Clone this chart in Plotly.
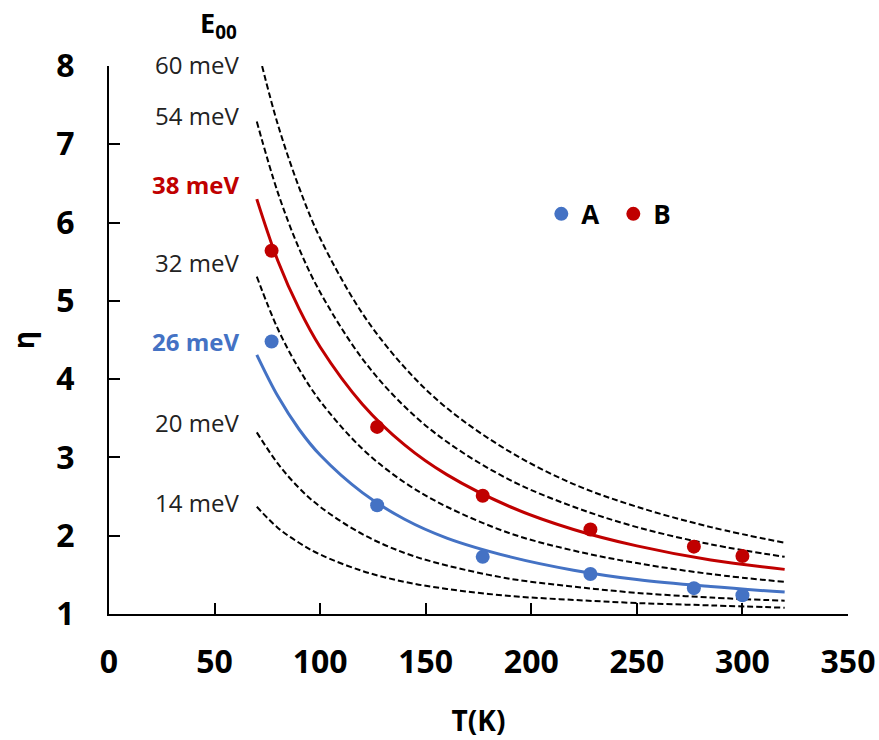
import plotly.graph_objects as go

# ---- data ----
T_points = [77, 127, 177, 228, 277, 300]
eta_A = [4.48, 2.39, 1.73, 1.51, 1.33, 1.24]
eta_B = [5.64, 3.39, 2.51, 2.08, 1.86, 1.74]

T_curve = [70, 80, 90, 100, 120, 140, 160, 190, 220, 250, 285, 320]
eta_14 = [2.37, 2.10, 1.91, 1.76, 1.55, 1.41, 1.32, 1.23, 1.18, 1.14, 1.11, 1.08]
eta_20 = [3.32, 2.92, 2.61, 2.37, 2.02, 1.78, 1.62, 1.45, 1.35, 1.27, 1.21, 1.17]
eta_26 = [4.31, 3.78, 3.36, 3.03, 2.55, 2.21, 1.97, 1.73, 1.56, 1.44, 1.35, 1.28]
eta_32 = [5.31, 4.64, 4.13, 3.72, 3.11, 2.68, 2.37, 2.03, 1.81, 1.65, 1.51, 1.41]
eta_38 = [6.30, 5.51, 4.90, 4.41, 3.68, 3.16, 2.78, 2.37, 2.08, 1.87, 1.69, 1.57]
eta_54 = [7.29, 6.38, 5.67, 5.11, 4.26, 3.65, 3.20, 2.71, 2.37, 2.11, 1.89, 1.73]
T_curve_60 = [72.5, 80, 90, 100, 120, 140, 160, 190, 220, 250, 285, 320]
eta_60 = [8.00, 7.25, 6.45, 5.80, 4.84, 4.15, 3.63, 3.07, 2.66, 2.37, 2.11, 1.91]

labels = ["60 meV", "54 meV", "38 meV", "32 meV", "26 meV", "20 meV", "14 meV"]
series_names = ["A", "B"]
x_ticks = [0, 50, 100, 150, 200, 250, 300, 350]
y_ticks = [1, 2, 3, 4, 5, 6, 7, 8]

BLUE = "#4472C4"
RED = "#C00000"
FONT = "Open Sans"

fig = go.Figure()

dash_style = dict(color="black", width=2, dash="6px,3px", shape="spline")
for tx, ty in [(T_curve, eta_14), (T_curve, eta_20), (T_curve, eta_32),
               (T_curve, eta_54), (T_curve_60, eta_60)]:
    fig.add_trace(go.Scatter(x=tx, y=ty, mode="lines", line=dash_style,
                             showlegend=False, hoverinfo="skip"))

fig.add_trace(go.Scatter(x=T_curve, y=eta_26, mode="lines",
                         line=dict(color=BLUE, width=3, shape="spline"),
                         showlegend=False))
fig.add_trace(go.Scatter(x=T_curve, y=eta_38, mode="lines",
                         line=dict(color=RED, width=3, shape="spline"),
                         showlegend=False))

fig.add_trace(go.Scatter(x=T_points, y=eta_A, mode="markers", name=series_names[0],
                         marker=dict(color=BLUE, size=14)))
fig.add_trace(go.Scatter(x=T_points, y=eta_B, mode="markers", name=series_names[1],
                         marker=dict(color=RED, size=14)))

# label positions in paper coordinates (plot area: y=1 at 0, y=8 at 1)
label_y_paper = [1.0035, 0.91, 0.783, 0.641, 0.498, 0.35, 0.203]
label_style = [("#222222", False), ("#222222", False), (RED, True), ("#222222", False),
               (BLUE, True), ("#222222", False), ("#222222", False)]
for txt, ly, (col, bold) in zip(labels, label_y_paper, label_style):
    fig.add_annotation(x=0.1785, y=ly, xref="paper", yref="paper",
                       text=f"<b>{txt}</b>" if bold else txt,
                       showarrow=False, xanchor="right", yanchor="middle",
                       font=dict(family=FONT, size=24, color=col))

fig.add_annotation(x=0.1475, y=1.076, xref="paper", yref="paper",
                   text="<b>E<sub>00</sub></b>", showarrow=False,
                   xanchor="center", yanchor="middle",
                   font=dict(family=FONT, size=27, color="black"))

axis_common = dict(showline=True, linecolor="black", linewidth=2, ticks="inside",
                   ticklen=11, tickwidth=2, tickcolor="black", showgrid=False,
                   zeroline=False, mirror=False, automargin=False,
                   tickfont=dict(family=FONT, size=32, color="black", weight="bold"))

fig.update_layout(
    width=879, height=740,
    margin=dict(l=109, r=31, t=66, b=126),
    paper_bgcolor="white", plot_bgcolor="white",
    xaxis=dict(range=[0, 350], tickvals=x_ticks, ticklabelstandoff=19,
               title=dict(text="<b>T(K)</b>", font=dict(family=FONT, size=28, color="black"),
                          standoff=30),
               **axis_common),
    yaxis=dict(range=[1, 8], tickvals=y_ticks, ticklabelstandoff=26,
               title=dict(text="<b>η</b>", font=dict(family=FONT, size=28, color="black"),
                          standoff=14),
               **axis_common),
    legend=dict(orientation="h", x=0.585, y=0.73, xanchor="left", yanchor="middle",
                font=dict(family=FONT, size=26, color="black", weight="bold"),
                bgcolor="rgba(0,0,0,0)", itemwidth=30, entrywidth=27),
    showlegend=True,
)

fig.write_html("out.html", config={"displayModeBar": False},
               post_script="document.body.style.margin='0';document.body.style.overflow='hidden';")
